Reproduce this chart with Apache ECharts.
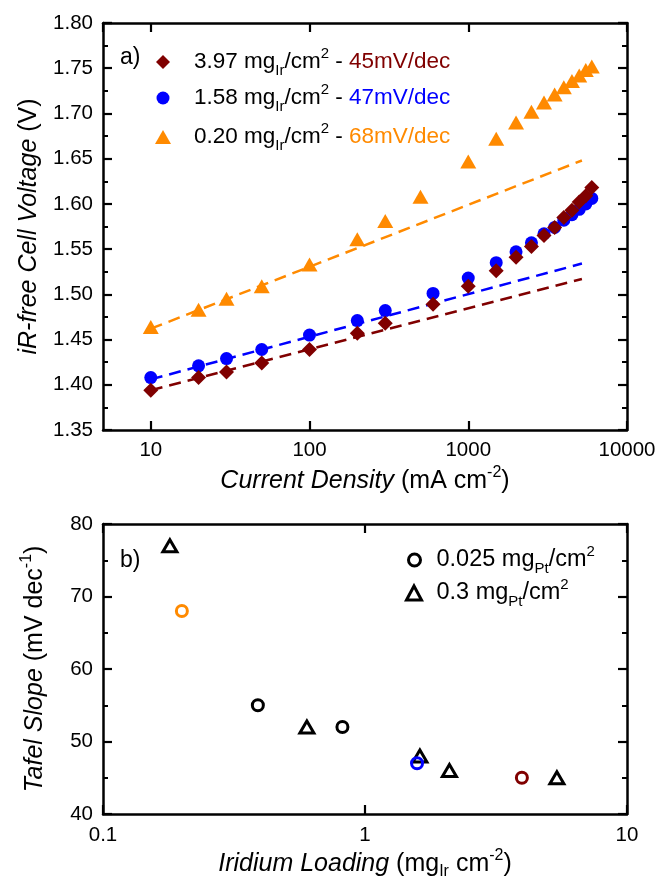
<!DOCTYPE html>
<html>
<head>
<meta charset="utf-8">
<script src="https://cdn.jsdelivr.net/npm/echarts@6/dist/echarts.min.js"></script>
<style>
  html, body { margin: 0; padding: 0; background: #fff; }
  #chart { width: 660px; height: 886px; }
</style>
</head>
<body>
<div id="chart"></div>
<script>
// ---- Panel a) : iR-free cell voltage vs current density ----
const currentDensity = [10, 20, 30, 50, 100, 200, 300, 600, 1000, 1500, 2000, 2500, 3000, 3500, 4000, 4500, 5000, 5500, 6000];
const voltage397 = [1.394, 1.408, 1.414, 1.424, 1.439, 1.457, 1.468, 1.489, 1.509, 1.526, 1.541, 1.553, 1.565, 1.574, 1.585, 1.593, 1.602, 1.609, 1.618];
const voltage158 = [1.408, 1.421, 1.429, 1.439, 1.455, 1.471, 1.482, 1.501, 1.518, 1.535, 1.547, 1.557, 1.567, 1.574, 1.582, 1.588, 1.594, 1.600, 1.606];
const currentDensity020 = [10, 20, 30, 50, 100, 200, 300, 500, 1000, 1500, 2000, 2500, 3000, 3500, 4000, 4500, 5000, 5500, 6000];
const voltage020 = [1.464, 1.483, 1.495, 1.509, 1.533, 1.561, 1.581, 1.608, 1.647, 1.672, 1.690, 1.702, 1.712, 1.721, 1.729, 1.736, 1.742, 1.748, 1.752];

// Tafel fit lines (end points)
const fitCurrent = [10, 5200];
const fit397 = [1.394, 1.517];
const fit158 = [1.406, 1.534];
const fit020 = [1.462, 1.648];

// Axis ranges / tick labels
const currentTicks = [10, 100, 1000, 10000];
const voltageTicks = [1.35, 1.40, 1.45, 1.50, 1.55, 1.60, 1.65, 1.70, 1.75, 1.80];

// ---- Panel b) : Tafel slope vs iridium loading ----
const loadingPt025 = [0.2, 0.39, 0.82, 1.58, 3.97];
const slopePt025 = [68, 55, 52, 47, 45];
const loadingPt03 = [0.18, 0.6, 1.62, 2.1, 5.4];
const slopePt03 = [77, 52, 48, 46, 45];

const loadingTicks = [0.1, 1, 10];
const slopeTicks = [40, 50, 60, 70, 80];

// ---- styling ----
const FONT = 'Liberation Sans, Arial, Helvetica, sans-serif';
const RED = '#800000', BLUE = '#0000ff', ORANGE = '#ff8a00', BLACK = '#000000';
const pt025Colors = [ORANGE, BLACK, BLACK, BLUE, RED];

const tickLabel = { fontSize: 20.5, color: BLACK, fontFamily: FONT };

function tok(size, extra) {
  return Object.assign({ fontSize: size, fontFamily: FONT, color: BLACK, lineHeight: 32 }, extra || {});
}
const richTitle = {
  it: tok(25, { fontStyle: 'italic' }),
  n: tok(25),
  sub: tok(16, { lineHeight: 16, verticalAlign: 'bottom' }),
  sup: tok(16, { lineHeight: 16, verticalAlign: 'top' })
};
function richLegend(pad, size) {
  size = size || 22.5;
  return {
    t0: tok(size, { padding: [0, 0, 0, pad] }),
    t: tok(size),
    sub: tok(15, { lineHeight: 15, verticalAlign: 'bottom' }),
    sup: tok(15, { lineHeight: 15, verticalAlign: 'top' }),
    r: tok(size, { color: RED }),
    b: tok(size, { color: BLUE }),
    o: tok(size, { color: ORANGE })
  };
}
const legendText = {
  '3.97 mg/cm2': '{t0|3.97 mg}{sub|Ir}{t|/cm}{sup|2}{t| - }{r|45mV/dec}',
  '1.58 mg/cm2': '{t0|1.58 mg}{sub|Ir}{t|/cm}{sup|2}{t| - }{b|47mV/dec}',
  '0.20 mg/cm2': '{t0|0.20 mg}{sub|Ir}{t|/cm}{sup|2}{t| - }{o|68mV/dec}',
  '0.025 mgPt/cm2': '{t0|0.025 mg}{sub|Pt}{t|/cm}{sup|2}',
  '0.3 mgPt/cm2': '{t0|0.3 mg}{sub|Pt}{t|/cm}{sup|2}'
};

function logAxis(gridIndex, position, lo, hi, showLabels, extra) {
  return Object.assign({
    type: 'log', logBase: 10, gridIndex, position, min: lo, max: hi,
    axisLine: { show: true, onZero: false, lineStyle: { color: BLACK, width: 2.5 } },
    axisTick: { show: true, inside: true, length: 9, lineStyle: { color: BLACK, width: 2.2 } },
    minorTick: { show: false },
    axisLabel: Object.assign({ show: showLabels, showMinLabel: false, margin: 10, formatter: v => String(v) }, tickLabel),
    splitLine: { show: false }
  }, extra || {});
}
function valueAxis(gridIndex, position, ticks, showLabels, digits, extra) {
  return Object.assign({
    type: 'value', gridIndex, position,
    min: ticks[0], max: ticks[ticks.length - 1], interval: ticks[1] - ticks[0],
    axisLine: { show: true, onZero: false, lineStyle: { color: BLACK, width: 2.5 } },
    axisTick: { show: true, inside: true, length: 9, lineStyle: { color: BLACK, width: 2.2 } },
    minorTick: { show: true, splitNumber: 2, length: 5, lineStyle: { color: BLACK, width: 2 } },
    axisLabel: Object.assign({ show: showLabels, margin: 10, formatter: v => v.toFixed(digits) }, tickLabel),
    splitLine: { show: false }
  }, extra || {});
}

const pairs = (xs, ys) => xs.map((x, i) => [x, ys[i]]);
const last = a => a[a.length - 1];

const chart = echarts.init(document.getElementById('chart'), null, { renderer: 'canvas' });
chart.setOption({
  animation: false,
  backgroundColor: '#ffffff',
  textStyle: { fontFamily: FONT },
  grid: [
    { left: 103, top: 23, width: 524, height: 407, containLabel: false, outerBoundsMode: 'none' },
    { left: 103, top: 524, width: 524, height: 290, containLabel: false, outerBoundsMode: 'none' }
  ],
  title: [
    { text: 'a)', left: 120, top: 46, padding: 0, textStyle: { fontSize: 23, fontWeight: 'normal', color: BLACK, fontFamily: FONT, lineHeight: 24 } },
    { text: 'b)', left: 120, top: 549, padding: 0, textStyle: { fontSize: 23, fontWeight: 'normal', color: BLACK, fontFamily: FONT, lineHeight: 24 } }
  ],
  legend: [
    { data: ['3.97 mg/cm2'], left: 156, top: 46, padding: 0, itemWidth: 14, itemHeight: 14, selectedMode: false,
      formatter: n => legendText[n], textStyle: { rich: richLegend(19) } },
    { data: ['1.58 mg/cm2'], left: 156.5, top: 82, padding: 0, itemWidth: 13, itemHeight: 13, selectedMode: false,
      formatter: n => legendText[n], textStyle: { rich: richLegend(19.5) } },
    { data: ['0.20 mg/cm2'], left: 155, top: 121, padding: 0, itemWidth: 16, itemHeight: 14, selectedMode: false,
      formatter: n => legendText[n], textStyle: { rich: richLegend(18) } },
    { data: ['0.025 mgPt/cm2'], left: 407, top: 544, padding: 0, itemWidth: 12, itemHeight: 12, selectedMode: false,
      itemStyle: { borderWidth: 3 },
      formatter: n => legendText[n], textStyle: { rich: richLegend(11, 23.5) } },
    { data: ['0.3 mgPt/cm2'], left: 405, top: 577, padding: 0, itemWidth: 15, itemHeight: 14, selectedMode: false,
      itemStyle: { borderWidth: 3 },
      formatter: n => legendText[n], textStyle: { rich: richLegend(10, 23.5) } }
  ],
  xAxis: [
    logAxis(0, 'bottom', 5, last(currentTicks), true, {
      name: '{it|Current Density}{n| (mA cm}{sup|-2}{n|)}',
      nameLocation: 'middle', nameGap: 35, nameTextStyle: { rich: richTitle }
    }),
    logAxis(0, 'top', 5, last(currentTicks), false),
    logAxis(1, 'bottom', loadingTicks[0], last(loadingTicks), true, {
      axisLabel: Object.assign({ show: true, margin: 11, formatter: v => String(v) }, tickLabel),
      name: '{it|Iridium Loading}{n| (mg}{sub|Ir}{n| cm}{sup|-2}{n|)}',
      nameLocation: 'middle', nameGap: 34, nameTextStyle: { rich: richTitle }
    }),
    logAxis(1, 'top', loadingTicks[0], last(loadingTicks), false)
  ],
  yAxis: [
    valueAxis(0, 'left', voltageTicks, true, 2, {
      name: '{it|iR-free Cell Voltage}{n| (V)}',
      nameLocation: 'middle', nameGap: 58, nameTextStyle: { rich: richTitle }
    }),
    valueAxis(0, 'right', voltageTicks, false, 2),
    valueAxis(1, 'left', slopeTicks, true, 0, {
      name: '{it|Tafel Slope}{n| (mV dec}{sup|-1}{n|)}',
      nameLocation: 'middle', nameGap: 52, nameTextStyle: { rich: richTitle }
    }),
    valueAxis(1, 'right', slopeTicks, false, 0)
  ],
  series: [
    // Tafel fits (dashed)
    { type: 'line', name: 'fit 3.97', xAxisIndex: 0, yAxisIndex: 0, data: pairs(fitCurrent, fit397),
      symbol: 'none', z: 1, lineStyle: { color: RED, width: 2.5, type: [12, 7] } },
    { type: 'line', name: 'fit 1.58', xAxisIndex: 0, yAxisIndex: 0, data: pairs(fitCurrent, fit158),
      symbol: 'none', z: 1, lineStyle: { color: BLUE, width: 2.5, type: [12, 7] } },
    { type: 'line', name: 'fit 0.20', xAxisIndex: 0, yAxisIndex: 0, data: pairs(fitCurrent, fit020),
      symbol: 'none', z: 1, lineStyle: { color: ORANGE, width: 2.5, type: [12, 7] } },
    // measured points
    { type: 'scatter', name: '0.20 mg/cm2', xAxisIndex: 0, yAxisIndex: 0, data: pairs(currentDensity020, voltage020),
      symbol: 'triangle', symbolSize: [16, 14], z: 3, itemStyle: { color: ORANGE, opacity: 1 } },
    { type: 'scatter', name: '1.58 mg/cm2', xAxisIndex: 0, yAxisIndex: 0, data: pairs(currentDensity, voltage158),
      symbol: 'circle', symbolSize: 13, z: 3, itemStyle: { color: BLUE, opacity: 1 } },
    { type: 'scatter', name: '3.97 mg/cm2', xAxisIndex: 0, yAxisIndex: 0, data: pairs(currentDensity, voltage397),
      symbol: 'diamond', symbolSize: 15, z: 4, itemStyle: { color: RED, opacity: 1 } },
    // panel b
    { type: 'scatter', name: '0.3 mgPt/cm2', xAxisIndex: 2, yAxisIndex: 2, data: pairs(loadingPt03, slopePt03),
      symbol: 'triangle', symbolSize: [14, 12], z: 3,
      itemStyle: { color: 'rgba(255,255,255,0)', borderColor: BLACK, borderWidth: 3, opacity: 1 } },
    { type: 'scatter', name: '0.025 mgPt/cm2', xAxisIndex: 2, yAxisIndex: 2,
      data: loadingPt025.map((x, i) => ({ value: [x, slopePt025[i]], itemStyle: { borderColor: pt025Colors[i] } })),
      symbol: 'circle', symbolSize: 11, z: 4,
      itemStyle: { color: 'rgba(255,255,255,0)', borderColor: BLACK, borderWidth: 3, opacity: 1 } }
  ]
});
</script>
</body>
</html>
